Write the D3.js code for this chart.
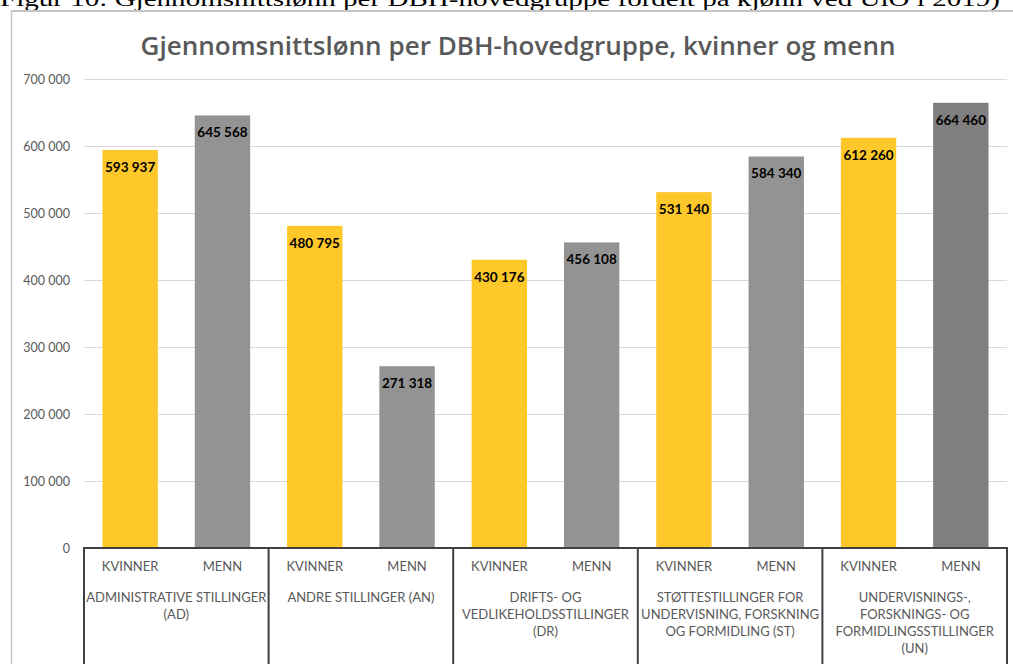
<!DOCTYPE html>
<html>
<head>
<meta charset="utf-8">
<script src="https://cdn.jsdelivr.net/npm/d3@7"></script>
<style>
  body { margin: 0; background: #fff; }
  svg { display: block; }
</style>
</head>
<body>
<div id="chart"></div>
<script>
// data
const groups = ["AD", "AN", "DR", "ST", "UN"]
const groupLabels = [
  ["ADMINISTRATIVE STILLINGER", "(AD)"],
  ["ANDRE STILLINGER (AN)"],
  ["DRIFTS- OG", "VEDLIKEHOLDSSTILLINGER", "(DR)"],
  ["STØTTESTILLINGER FOR", "UNDERVISNING, FORSKNING", "OG FORMIDLING (ST)"],
  ["UNDERVISNINGS-,", "FORSKNINGS- OG", "FORMIDLINGSSTILLINGER", "(UN)"]
]
const series = ["KVINNER", "MENN"]
const kvinner = [593937, 480795, 430176, 531140, 612260]
const menn = [645568, 271318, 456108, 584340, 664460]
const yTicks = [0, 100000, 200000, 300000, 400000, 500000, 600000, 700000]

const width = 1013
const height = 664

const locale = d3.formatLocale({ decimal: ",", thousands: " ", grouping: [3], currency: ["", ""] })
const fmt = locale.format(",")

let svg = d3.select("#chart")
            .append("svg")
            .attr("width", width)
            .attr("height", height)

// figure caption, cut at the top of the page like in the original
svg.append("text")
   .attr("x", 0)
   .attr("y", 6)
   .attr("textLength", 1000)
   .attr("lengthAdjust", "spacingAndGlyphs")
   .style("font-family", "Liberation Serif, serif")
   .style("font-size", "22px")
   .style("fill", "#000")
   .text("Figur 10: Gjennomsnittslønn per DBH-hovedgruppe fordelt på kjønn ved UiO i 2019)")

// chart frame
svg.append("line")
   .attr("x1", 11).attr("x2", width)
   .attr("y1", 11).attr("y2", 11)
   .style("stroke", "#c6c6c6").style("stroke-width", 2)
svg.append("line")
   .attr("x1", 11.5).attr("x2", 11.5)
   .attr("y1", 10).attr("y2", height)
   .style("stroke", "#c6c6c6").style("stroke-width", 1.5)

svg.append("text")
   .attr("x", 518)
   .attr("y", 55)
   .attr("text-anchor", "middle")
   .attr("textLength", 755)
   .attr("lengthAdjust", "spacingAndGlyphs")
   .style("font-family", "Open Sans, sans-serif")
   .style("font-weight", "600")
   .style("font-size", "25px")
   .style("fill", "#595959")
   .text("Gjennomsnittslønn per DBH-hovedgruppe, kvinner og menn")

// scales
let xScale = d3.scaleBand()
               .domain(groups)
               .range([84, 1007])
               .padding(0)
let xSub = d3.scaleBand()
             .domain(series)
             .range([0, xScale.bandwidth()])
             .paddingInner(0.4)
             .paddingOuter(0.2)
let yScale = d3.scaleLinear()
               .domain([0, 700000])
               .range([548, 79])

// gridlines and y labels
let yAxis = d3.axisLeft(yScale)
              .tickValues(yTicks)
              .tickSize(-(1007 - 84))
              .tickPadding(14)
              .tickFormat(fmt)
let gy = svg.append("g")
            .attr("transform", "translate(84,0)")
            .call(yAxis)
gy.select(".domain").remove()
gy.selectAll(".tick line")
  .style("stroke", "#d9d9d9")
  .style("stroke-width", 1)
gy.selectAll(".tick text")
  .style("font-family", "Lato, sans-serif")
  .style("font-size", "12.5px")
  .style("fill", "#595959")

// bars
let rows = []
groups.forEach(function(g, i) {
  rows.push({ group: g, s: "KVINNER", value: kvinner[i], last: false })
  rows.push({ group: g, s: "MENN", value: menn[i], last: i == groups.length - 1 })
})

let color = d3.scaleOrdinal()
              .domain(series)
              .range(["#fec72a", "#939393"])

svg.selectAll(".bar")
   .data(rows)
   .enter().append("rect")
   .attr("class", "bar")
   .attr("x", d => xScale(d.group) + xSub(d.s))
   .attr("width", xSub.bandwidth())
   .attr("y", d => yScale(d.value))
   .attr("height", d => yScale(0) - yScale(d.value))
   .style("fill", d => d.last ? "#7f7f7f" : color(d.s))

svg.selectAll(".val")
   .data(rows)
   .enter().append("text")
   .attr("class", "val")
   .attr("x", d => xScale(d.group) + xSub(d.s) + xSub.bandwidth() / 2)
   .attr("y", d => yScale(d.value) + 22)
   .attr("text-anchor", "middle")
   .style("font-family", "Lato, sans-serif")
   .style("font-weight", "bold")
   .style("font-size", "13.5px")
   .style("fill", "#000")
   .text(d => fmt(d.value))

// category axis with separators
let axisColor = "#404040"
svg.append("line")
   .attr("x1", 84).attr("x2", 1008)
   .attr("y1", 548).attr("y2", 548)
   .style("stroke", axisColor).style("stroke-width", 2)

let bounds = groups.map(g => xScale(g)).concat([xScale.range()[1]])
svg.selectAll(".sep")
   .data(bounds)
   .enter().append("line")
   .attr("class", "sep")
   .attr("x1", d => d).attr("x2", d => d)
   .attr("y1", 547).attr("y2", height)
   .style("stroke", axisColor).style("stroke-width", 2)

svg.selectAll(".sub")
   .data(rows)
   .enter().append("text")
   .attr("class", "sub")
   .attr("x", d => xScale(d.group) + xSub(d.s) + xSub.bandwidth() / 2)
   .attr("y", 571)
   .attr("text-anchor", "middle")
   .style("font-family", "Lato, sans-serif")
   .style("font-size", "13px")
   .style("fill", "#595959")
   .text(d => d.s)

let gl = svg.selectAll(".glabel")
            .data(groups)
            .enter().append("text")
            .attr("class", "glabel")
            .attr("text-anchor", "middle")
            .style("font-family", "Lato, sans-serif")
            .style("font-size", "13px")
            .style("fill", "#595959")
gl.each(function(g, i) {
  d3.select(this).selectAll("tspan")
    .data(groupLabels[i])
    .enter().append("tspan")
    .attr("x", xScale(g) + xScale.bandwidth() / 2)
    .attr("y", (d, j) => 602 + j * 17)
    .text(d => d)
})
</script>
</body>
</html>
